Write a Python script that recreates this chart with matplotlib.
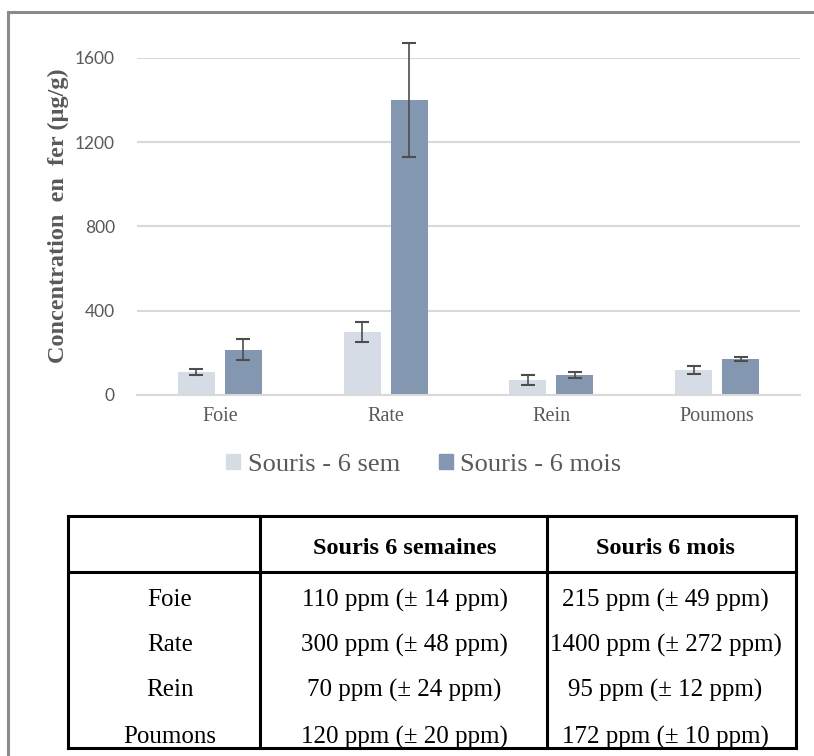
import matplotlib
matplotlib.use("Agg")
import matplotlib.pyplot as plt
from matplotlib.lines import Line2D
import numpy as np

# ---- data ----
organs = ["Foie", "Rate", "Rein", "Poumons"]
sem_vals = [110, 300, 70, 120]
sem_err = [14, 48, 24, 20]
mois_vals = [215, 1400, 95, 172]
mois_err = [49, 272, 12, 10]
series_labels = ["Souris - 6 sem", "Souris - 6 mois"]
table_headers = ["Souris 6 semaines", "Souris 6 mois"]
yticks = [0, 400, 800, 1200, 1600]
ylabel = "Concentration  en  fer (µg/g)"

W, H = 814, 756
fig = plt.figure(figsize=(W / 100, H / 100), dpi=100)
fig.patch.set_facecolor("white")

def fx(px):
    return px / W

def fy(py):
    return 1 - py / H

SERIF = "Liberation Serif"
SANS = "Lato"
LIGHT = "#D6DCE5"
DARK = "#8497B0"
TXT = "#595959"

# outer frame (left and top)
fig.add_artist(Line2D([fx(8), fx(8)], [fy(12), fy(756)], color="#8a8a8a", lw=2.2))
fig.add_artist(Line2D([fx(8), fx(814)], [fy(12), fy(12)], color="#8a8a8a", lw=2.2))

# ---- chart ----
ax = fig.add_axes([fx(137), fy(395), fx(800) - fx(137), fy(58) - fy(395)])
x = np.arange(len(organs))
bw = 0.223
off = 0.142
ax.bar(x - off, sem_vals, bw, color=LIGHT, zorder=2)
ax.bar(x + off, mois_vals, bw, color=DARK, zorder=2)
ax.errorbar(x - off, sem_vals, yerr=sem_err, fmt="none", ecolor="#4d4d4d",
            elinewidth=1.2, capsize=5, capthick=1.5, zorder=3, clip_on=False)
ax.errorbar(x + off, mois_vals, yerr=mois_err, fmt="none", ecolor="#4d4d4d",
            elinewidth=1.2, capsize=5, capthick=1.5, zorder=3, clip_on=False)
ax.set_xlim(-0.5, len(organs) - 0.5)
ax.set_ylim(0, 1600)
ax.set_yticks(yticks)
ax.set_yticklabels([str(t) for t in yticks], fontfamily=SANS, fontsize=12.5, color=TXT)
ax.set_xticks(x)
ax.set_xticklabels(organs, fontfamily=SERIF, fontsize=14.5, color=TXT)
ax.tick_params(axis="both", length=0)
ax.tick_params(axis="y", pad=16)
ax.tick_params(axis="x", pad=9)
ax.grid(axis="y", color="#D9D9D9", lw=1.5, zorder=0)
for s in ["top", "right", "left"]:
    ax.spines[s].set_visible(False)
ax.spines["bottom"].set_color("#D9D9D9")
ax.spines["bottom"].set_linewidth(1.5)
ax.set_facecolor("none")

fig.text(fx(58), fy(216), ylabel, rotation=90, ha="center", va="center",
         fontfamily=SERIF, fontweight="bold", fontsize=17.5, color=TXT)

# legend
handles = [plt.Rectangle((0, 0), 1, 1, color=LIGHT), plt.Rectangle((0, 0), 1, 1, color=DARK)]
fig.legend(handles, series_labels, loc="center", bbox_to_anchor=(fx(424), fy(465)),
           ncol=2, frameon=False, prop={"family": SERIF, "size": 19},
           labelcolor=TXT, handlelength=0.5, handleheight=0.5, handletextpad=0.3,
           columnspacing=1.5)

# ---- table ----
tl, tc1, tc2, tr = 68, 260, 547, 796
tt, th, tb = 516, 572, 748
lw_t = 2.2
for xx in [tl, tc1, tc2, tr]:
    fig.add_artist(Line2D([fx(xx), fx(xx)], [fy(tt), fy(tb)], color="black", lw=lw_t))
for yy in [tt, th, tb]:
    fig.add_artist(Line2D([fx(tl), fx(tr)], [fy(yy), fy(yy)], color="black", lw=lw_t))

col_centers = [(tl + tc1) / 2 + 6, (tc1 + tc2) / 2 + 1, (tc2 + tr) / 2 - 6]
fig.text(fx(col_centers[1]), fy(548), table_headers[0], ha="center", va="center",
         fontfamily=SERIF, fontweight="bold", fontsize=17.5, color="black")
fig.text(fx(col_centers[2]), fy(548), table_headers[1], ha="center", va="center",
         fontfamily=SERIF, fontweight="bold", fontsize=17.5, color="black")

row_y = [600, 645, 690, 737]
for i, org in enumerate(organs):
    fig.text(fx(col_centers[0]), fy(row_y[i]), org, ha="center", va="center",
             fontfamily=SERIF, fontsize=18, color="black")
    fig.text(fx(col_centers[1]), fy(row_y[i]), f"{sem_vals[i]} ppm (± {sem_err[i]} ppm)",
             ha="center", va="center", fontfamily=SERIF, fontsize=18, color="black")
    fig.text(fx(col_centers[2]), fy(row_y[i]), f"{mois_vals[i]} ppm (± {mois_err[i]} ppm)",
             ha="center", va="center", fontfamily=SERIF, fontsize=18, color="black")

fig.savefig("out.png", dpi=100)
